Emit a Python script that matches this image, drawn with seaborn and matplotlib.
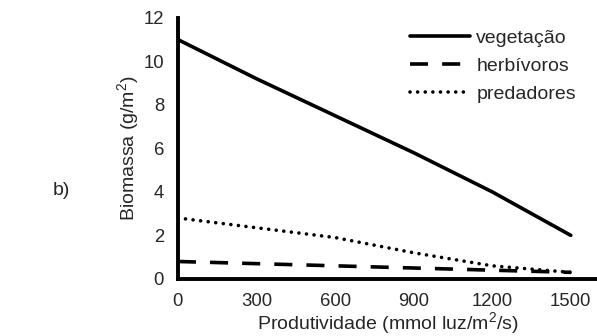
import matplotlib
matplotlib.use("Agg")
import matplotlib.pyplot as plt
import seaborn as sns
import pandas as pd

produtividade = [0, 300, 600, 900, 1200, 1500]
vegetacao = [11.0, 9.2, 7.5, 5.8, 4.0, 2.0]
herbivoros = [0.8, 0.7, 0.6, 0.5, 0.4, 0.3]
predadores = [2.8, 2.35, 1.9, 1.2, 0.6, 0.3]
x_ticks = [0, 300, 600, 900, 1200, 1500]
y_ticks = [0, 2, 4, 6, 8, 10, 12]

sns.set_style("white")
plt.rcParams["font.family"] = ["Liberation Sans", "DejaVu Sans"]
plt.rcParams["mathtext.fontset"] = "custom"
plt.rcParams["mathtext.rm"] = "Liberation Sans"

df = pd.DataFrame({
    "x": produtividade * 3,
    "y": vegetacao + herbivoros + predadores,
    "serie": ["vegetação"] * 6 + ["herbívoros"] * 6 + ["predadores"] * 6,
})

fig = plt.figure(figsize=(5.97, 3.36), dpi=100)
ax = fig.add_axes([0.298, 0.170, 0.702, 0.777])

lw = 2.6
styles = {
    "vegetação": dict(linestyle="-"),
    "herbívoros": dict(linestyle=(0, (5, 3.9)), dash_capstyle="butt"),
    "predadores": dict(linestyle=(0, (0.01, 2.1)), dash_capstyle="round"),
}
for nome, sub in df.groupby("serie", sort=False):
    sns.lineplot(data=sub, x="x", y="y", ax=ax, color="black", linewidth=lw,
                 label=nome, **styles[nome])

ax.set_xlim(0, 1600)
ax.set_ylim(0, 12)
ax.set_xticks(x_ticks)
ax.set_yticks(y_ticks)
ax.tick_params(axis="both", labelsize=13.3, length=3, width=2, direction="out")
ax.tick_params(axis="x", pad=7.5)
ax.tick_params(axis="y", pad=7)
for s in ["top", "right"]:
    ax.spines[s].set_visible(False)
for s in ["left", "bottom"]:
    ax.spines[s].set_linewidth(2.8)
    ax.spines[s].set_color("black")

ax.set_xlabel("Produtividade (mmol luz/m$^{2}$/s)", fontsize=14, labelpad=0)
ax.set_ylabel("Biomassa (g/m$^{2}$)", fontsize=14, labelpad=1)

leg = ax.legend(loc="upper left", frameon=False, fontsize=14, handlelength=3.1,
                handletextpad=0.3, labelspacing=0.52, borderpad=0, borderaxespad=0,
                bbox_to_anchor=(0.687, 0.912), bbox_transform=fig.transFigure)

fig.text(0.088, 0.42, "b)", fontsize=14)

fig.savefig("out.png", dpi=100)
